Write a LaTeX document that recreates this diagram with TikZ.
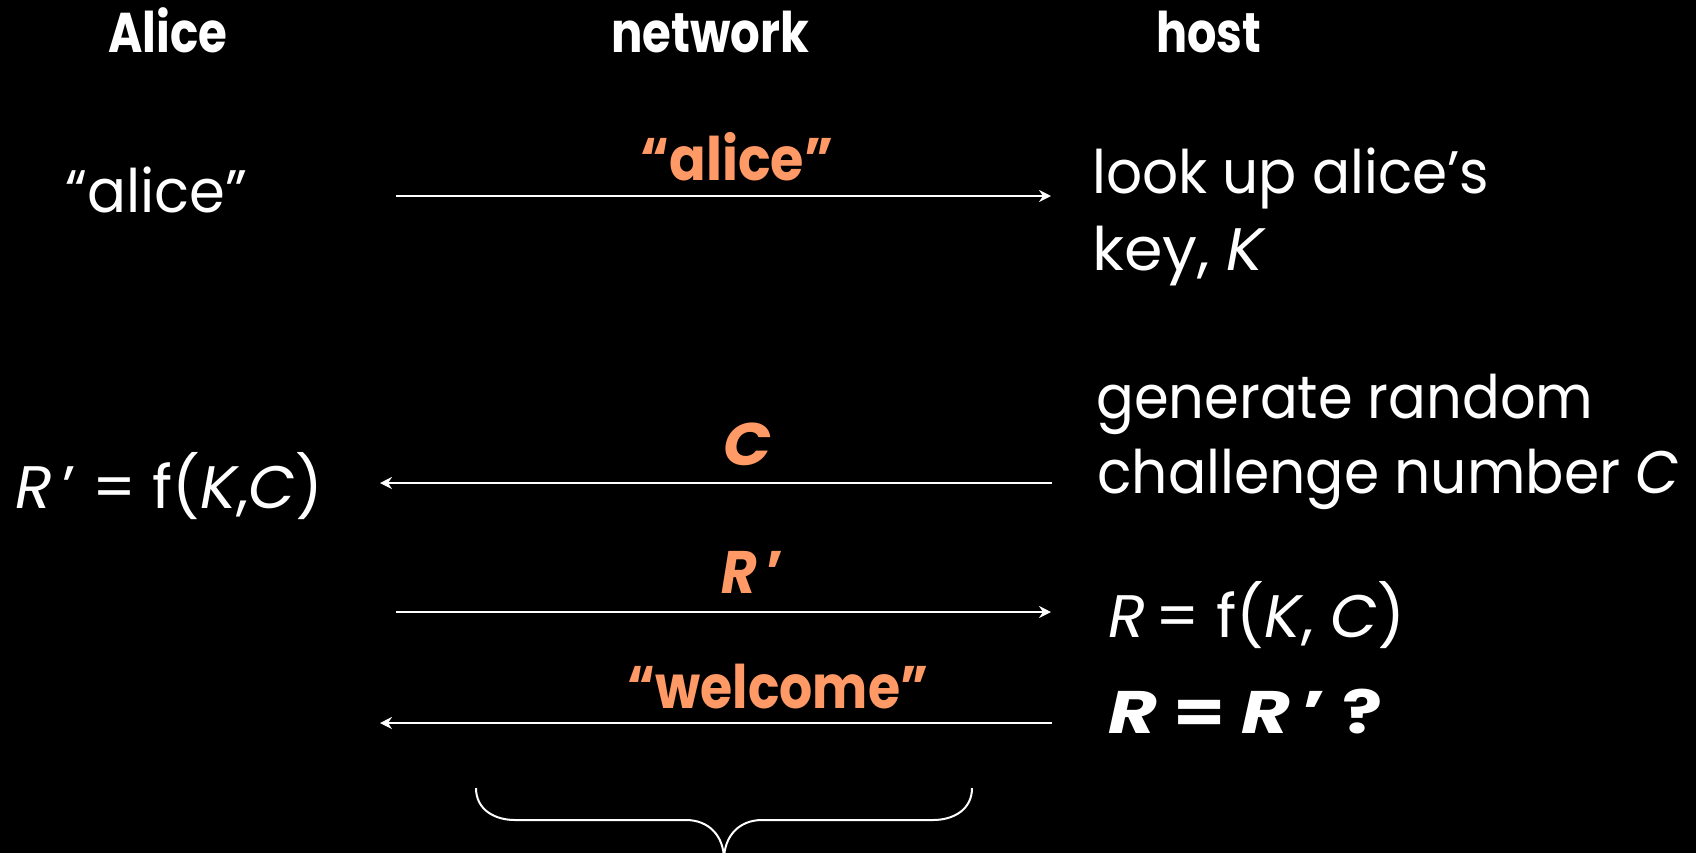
\documentclass[tikz,border=0pt]{standalone}
\usepackage{fontspec}
\usepackage{graphicx}
\setmainfont{Poppins}
\usetikzlibrary{arrows.meta}
\definecolor{lbl}{RGB}{255,153,102}
\newcommand{\sq}{{\char"27}}
\newcommand{\fitw}[2]{\resizebox{#1}{\height}{#2}}
\begin{document}
\begin{tikzpicture}[x=0.5pt,y=-0.5pt,
  txt/.style={text=white, inner sep=0pt, anchor=base west, font=\fontsize{30}{38}\selectfont},
  hdr/.style={text=white, inner sep=0pt, anchor=base west, font=\bfseries\fontsize{28}{34}\selectfont},
  lab/.style={text=lbl, inner sep=0pt, anchor=base west, font=\bfseries\fontsize{30}{38}\selectfont},
  msg/.style={draw=white, line width=1pt, -{Stealth[length=6pt,width=6pt,inset=2pt]}},
  brace/.style={draw=white, line width=1pt}]
\fill[black] (0,0) rectangle (1696,853);
\useasboundingbox (0,0) rectangle (1696,853);
% headers
\node[hdr] (hA) at (108,52) {\fitw{59.5pt}{Alice}};
\node[hdr] (hN) at (611,52) {\fitw{99pt}{network}};
\node[hdr] (hH) at (1156,52) {\fitw{52.5pt}{host}};
% left side
\node[txt] (aname) at (65,212) {\fitw{91pt}{“alice”}};
\node[txt] (rp) at (15,508) {\fitw{154pt}{\textit{R}\,\sq\ = f(\textit{K},\textit{C})}};
% right side
\node[txt] (look1) at (1092,193) {\fitw{198.5pt}{look up alice’s}};
\node[txt] (look2) at (1092,270) {\fitw{87pt}{key, \textit{K}}};
\node[txt] (gen1) at (1096,418) {\fitw{248.5pt}{generate random}};
\node[txt] (gen2) at (1097,493) {\fitw{291pt}{challenge number \textit{C}}};
\node[txt] (rf) at (1108,637) {\fitw{148.5pt}{\textit{R}\,= f(\textit{K}, \textit{C})}};
\node[txt, font=\bfseries\fontsize{30}{38}\selectfont] (req) at (1108,733) {\fitw{137pt}{\textit{R} = \textit{R}\,\sq\ ?}};
% arrow end points
\coordinate (a1s) at (396,196); \coordinate (a1e) at (1051,196);
\coordinate (a2s) at (1052,483); \coordinate (a2e) at (380,483);
\coordinate (a3s) at (396,612); \coordinate (a3e) at (1051,612);
\coordinate (a4s) at (1052,723); \coordinate (a4e) at (380,723);
\draw[msg] (a1s) -- (a1e);
\draw[msg] (a2s) -- (a2e);
\draw[msg] (a3s) -- (a3e);
\draw[msg] (a4s) -- (a4e);
% labels
\node[lab] (l1) at (640,180) {\fitw{96.5pt}{“alice”}};
\node[lab] (l2) at (723,465) {\fitw{24pt}{\textit{C}}};
\node[lab] (l3) at (721,593) {\fitw{31pt}{\textit{R}\,\sq}};
\node[lab] (l4) at (627,708) {\fitw{150.5pt}{“welcome”}};
% brace
\draw[brace] (476,788) .. controls (476,810) and (495,820) .. (515,820) -- (686,820)
  .. controls (708,820) and (724,835) .. (724,860);
\draw[brace] (972,788) .. controls (972,810) and (953,820) .. (933,820) -- (762,820)
  .. controls (740,820) and (724,835) .. (724,860);
\end{tikzpicture}
\end{document}
